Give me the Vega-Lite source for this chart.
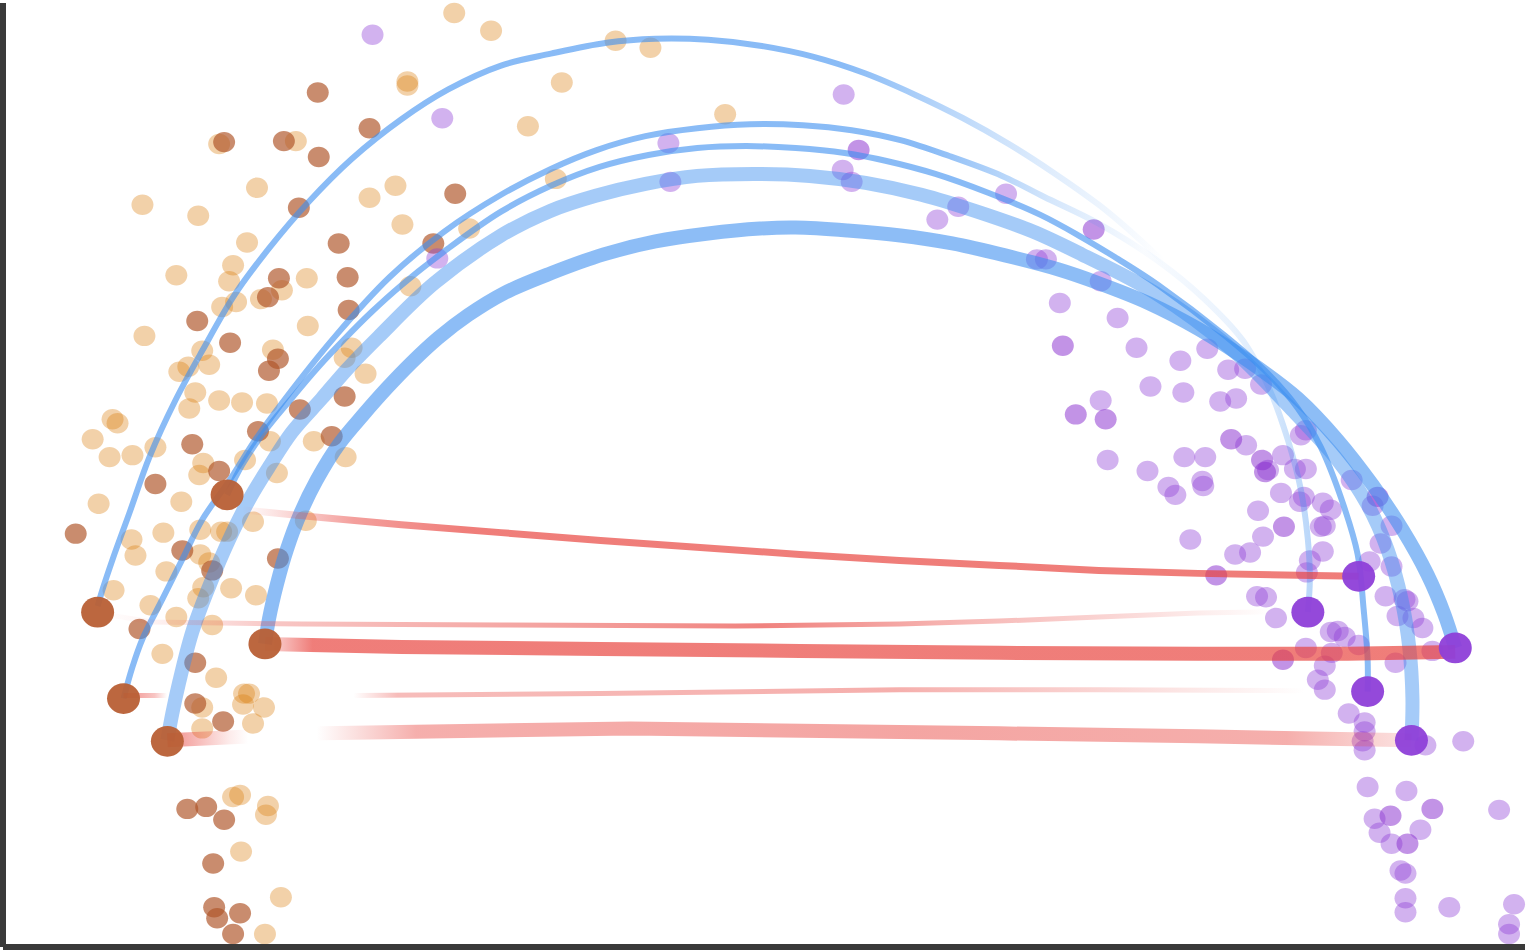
{
  "$schema": "https://vega.github.io/schema/vega-lite/v6.json",
  "width": 1528,
  "height": 950,
  "autosize": {"type": "fit", "contains": "padding"},
  "padding": 0,
  "background": "white",
  "config": {"view": {"stroke": null}},
  "datasets": {
    "dots": [
      {"g":"o","x":453,"y":10},{"g":"o","x":490,"y":28},{"g":"o","x":406,"y":79},{"g":"o","x":406,"y":83},{"g":"o","x":217,"y":142},{"g":"o","x":294,"y":139},{"g":"o","x":255,"y":186},{"g":"o","x":140,"y":203},{"g":"o","x":196,"y":214},{"g":"o","x":368,"y":196},{"g":"o","x":394,"y":184},{"g":"o","x":401,"y":223},{"g":"o","x":245,"y":241},{"g":"o","x":468,"y":227},{"g":"o","x":231,"y":264},{"g":"o","x":227,"y":280},{"g":"o","x":174,"y":274},{"g":"o","x":305,"y":277},{"g":"o","x":409,"y":285},{"g":"o","x":259,"y":298},{"g":"o","x":280,"y":289},{"g":"o","x":234,"y":301},{"g":"o","x":220,"y":306},{"g":"o","x":306,"y":325},{"g":"o","x":142,"y":335},{"g":"o","x":200,"y":350},{"g":"o","x":271,"y":349},{"g":"o","x":350,"y":347},{"g":"o","x":343,"y":357},{"g":"o","x":186,"y":366},{"g":"o","x":207,"y":364},{"g":"o","x":177,"y":371},{"g":"o","x":364,"y":373},{"g":"o","x":193,"y":392},{"g":"o","x":217,"y":400},{"g":"o","x":240,"y":402},{"g":"o","x":265,"y":403},{"g":"o","x":615,"y":38},{"g":"o","x":650,"y":45},{"g":"o","x":561,"y":80},{"g":"o","x":527,"y":124},{"g":"o","x":725,"y":112},{"g":"o","x":555,"y":177},{"g":"o","x":187,"y":408},{"g":"o","x":110,"y":419},{"g":"o","x":115,"y":423},{"g":"o","x":90,"y":439},{"g":"o","x":107,"y":457},{"g":"o","x":130,"y":455},{"g":"o","x":153,"y":447},{"g":"o","x":268,"y":441},{"g":"o","x":312,"y":441},{"g":"o","x":344,"y":457},{"g":"o","x":201,"y":463},{"g":"o","x":197,"y":475},{"g":"o","x":243,"y":460},{"g":"o","x":275,"y":473},{"g":"o","x":179,"y":502},{"g":"o","x":96,"y":504},{"g":"o","x":129,"y":540},{"g":"o","x":133,"y":556},{"g":"o","x":161,"y":533},{"g":"o","x":198,"y":530},{"g":"o","x":219,"y":532},{"g":"o","x":225,"y":532},{"g":"o","x":251,"y":522},{"g":"o","x":304,"y":521},{"g":"o","x":198,"y":555},{"g":"o","x":207,"y":563},{"g":"o","x":164,"y":572},{"g":"o","x":201,"y":588},{"g":"o","x":196,"y":599},{"g":"o","x":229,"y":589},{"g":"o","x":254,"y":596},{"g":"o","x":111,"y":591},{"g":"o","x":148,"y":606},{"g":"o","x":174,"y":618},{"g":"o","x":210,"y":626},{"g":"o","x":160,"y":655},{"g":"o","x":214,"y":679},{"g":"o","x":242,"y":695},{"g":"o","x":247,"y":695},{"g":"o","x":241,"y":706},{"g":"o","x":262,"y":709},{"g":"o","x":200,"y":709},{"g":"o","x":251,"y":725},{"g":"o","x":200,"y":730},{"g":"o","x":231,"y":799},{"g":"o","x":238,"y":797},{"g":"o","x":266,"y":808},{"g":"o","x":264,"y":817},{"g":"o","x":239,"y":854},{"g":"o","x":279,"y":900},{"g":"o","x":263,"y":937},
      {"g":"b","x":316,"y":90},{"g":"b","x":368,"y":126},{"g":"b","x":222,"y":140},{"g":"b","x":282,"y":139},{"g":"b","x":317,"y":155},{"g":"b","x":297,"y":206},{"g":"b","x":454,"y":192},{"g":"b","x":337,"y":242},{"g":"b","x":432,"y":242},{"g":"b","x":277,"y":277},{"g":"b","x":346,"y":276},{"g":"b","x":266,"y":296},{"g":"b","x":347,"y":309},{"g":"b","x":195,"y":320},{"g":"b","x":228,"y":342},{"g":"b","x":276,"y":358},{"g":"b","x":267,"y":370},{"g":"b","x":343,"y":396},{"g":"b","x":298,"y":409},{"g":"b","x":190,"y":444},{"g":"b","x":256,"y":431},{"g":"b","x":330,"y":436},{"g":"b","x":217,"y":471},{"g":"b","x":153,"y":484},{"g":"b","x":73,"y":534},{"g":"b","x":180,"y":551},{"g":"b","x":210,"y":571},{"g":"b","x":276,"y":559},{"g":"b","x":137,"y":630},{"g":"b","x":193,"y":664},{"g":"b","x":193,"y":705},{"g":"b","x":221,"y":723},{"g":"b","x":185,"y":811},{"g":"b","x":204,"y":809},{"g":"b","x":222,"y":822},{"g":"b","x":211,"y":866},{"g":"b","x":212,"y":910},{"g":"b","x":215,"y":921},{"g":"b","x":238,"y":916},{"g":"b","x":231,"y":937},
      {"g":"p","x":371,"y":32},{"g":"p","x":441,"y":116},{"g":"p","x":436,"y":257},{"g":"p","x":844,"y":92},{"g":"p","x":668,"y":141},{"g":"p","x":670,"y":180},{"g":"p","x":843,"y":168},{"g":"p","x":852,"y":180},{"g":"p","x":1007,"y":192},{"g":"p","x":959,"y":205},{"g":"p","x":938,"y":218},{"g":"p","x":1038,"y":258},{"g":"p","x":1047,"y":258},{"g":"p","x":1102,"y":280},{"g":"p","x":1061,"y":302},{"g":"p","x":1119,"y":317},{"g":"p","x":1138,"y":347},{"g":"p","x":1182,"y":360},{"g":"p","x":1209,"y":348},{"g":"p","x":1230,"y":369},{"g":"p","x":1247,"y":368},{"g":"p","x":1263,"y":384},{"g":"p","x":1152,"y":386},{"g":"p","x":1185,"y":392},{"g":"p","x":1222,"y":401},{"g":"p","x":1238,"y":398},{"g":"p","x":1102,"y":400},{"g":"p","x":1248,"y":445},{"g":"p","x":1109,"y":460},{"g":"p","x":1186,"y":457},{"g":"p","x":1207,"y":457},{"g":"p","x":1285,"y":455},{"g":"p","x":1149,"y":471},{"g":"p","x":1170,"y":487},{"g":"p","x":1204,"y":481},{"g":"p","x":1205,"y":486},{"g":"p","x":1283,"y":493},{"g":"p","x":1177,"y":495},{"g":"p","x":1303,"y":435},{"g":"p","x":1308,"y":430},{"g":"p","x":1270,"y":470},{"g":"p","x":1297,"y":469},{"g":"p","x":1308,"y":469},{"g":"p","x":1302,"y":502},{"g":"p","x":1306,"y":497},{"g":"p","x":1325,"y":503},{"g":"p","x":1333,"y":510},{"g":"p","x":1323,"y":527},{"g":"p","x":1327,"y":526},{"g":"p","x":1354,"y":480},{"g":"p","x":1375,"y":506},{"g":"p","x":1394,"y":526},{"g":"p","x":1383,"y":544},{"g":"p","x":1325,"y":552},{"g":"p","x":1312,"y":561},{"g":"p","x":1309,"y":573},{"g":"p","x":1260,"y":511},{"g":"p","x":1265,"y":537},{"g":"p","x":1192,"y":540},{"g":"p","x":1237,"y":555},{"g":"p","x":1252,"y":553},{"g":"p","x":1372,"y":562},{"g":"p","x":1394,"y":567},{"g":"p","x":1259,"y":597},{"g":"p","x":1268,"y":598},{"g":"p","x":1278,"y":619},{"g":"p","x":1388,"y":597},{"g":"p","x":1407,"y":600},{"g":"p","x":1410,"y":602},{"g":"p","x":1400,"y":617},{"g":"p","x":1416,"y":619},{"g":"p","x":1425,"y":629},{"g":"p","x":1333,"y":633},{"g":"p","x":1340,"y":632},{"g":"p","x":1347,"y":638},{"g":"p","x":1361,"y":646},{"g":"p","x":1308,"y":649},{"g":"p","x":1334,"y":654},{"g":"p","x":1435,"y":652},{"g":"p","x":1398,"y":664},{"g":"p","x":1327,"y":667},{"g":"p","x":1320,"y":681},{"g":"p","x":1327,"y":691},{"g":"p","x":1351,"y":715},{"g":"p","x":1367,"y":724},{"g":"p","x":1367,"y":733},{"g":"p","x":1365,"y":743},{"g":"p","x":1367,"y":752},{"g":"p","x":1428,"y":747},{"g":"p","x":1466,"y":743},{"g":"p","x":1370,"y":789},{"g":"p","x":1409,"y":793},{"g":"p","x":1502,"y":812},{"g":"p","x":1377,"y":821},{"g":"p","x":1382,"y":835},{"g":"p","x":1423,"y":832},{"g":"p","x":1394,"y":846},{"g":"p","x":1403,"y":873},{"g":"p","x":1408,"y":876},{"g":"p","x":1408,"y":901},{"g":"p","x":1408,"y":915},{"g":"p","x":1452,"y":910},{"g":"p","x":1517,"y":907},{"g":"p","x":1512,"y":927},{"g":"p","x":1512,"y":937},
      {"g":"q","x":859,"y":148},{"g":"q","x":1095,"y":228},{"g":"q","x":1064,"y":345},{"g":"q","x":1077,"y":414},{"g":"q","x":1107,"y":419},{"g":"q","x":1233,"y":439},{"g":"q","x":1264,"y":460},{"g":"q","x":1267,"y":472},{"g":"q","x":1380,"y":497},{"g":"q","x":1286,"y":527},{"g":"q","x":1218,"y":576},{"g":"q","x":1285,"y":661},{"g":"q","x":1435,"y":811},{"g":"q","x":1393,"y":818},{"g":"q","x":1410,"y":846}
    ]
  },
  "encoding": {
    "x": {"field": "x", "type": "quantitative", "scale": {"domain": [0, 1528], "nice": false, "zero": false}, "axis": null},
    "y": {"field": "y", "type": "quantitative", "scale": {"domain": [0, 950], "reverse": true, "nice": false, "zero": false}, "axis": null}
  },
  "layer": [
    {
      "data": {"name": "dots"},
      "transform": [{"filter": "datum.g == 'o'"}],
      "mark": {"type": "point", "filled": true, "shape": "M-1,0A1,0.93,0,1,1,1,0A1,0.93,0,1,1,-1,0Z", "size": 484, "strokeWidth": 0, "color": "#da7c09", "opacity": 0.35}
    },
    {
      "data": {"name": "dots"},
      "transform": [{"filter": "datum.g == 'b'"}],
      "mark": {"type": "point", "filled": true, "shape": "M-1,0A1,0.93,0,1,1,1,0A1,0.93,0,1,1,-1,0Z", "size": 484, "strokeWidth": 0, "color": "#b0552a", "opacity": 0.68}
    },
    {
      "data": {"name": "dots"},
      "transform": [{"filter": "datum.g == 'p'"}],
      "mark": {"type": "point", "filled": true, "shape": "M-1,0A1,0.93,0,1,1,1,0A1,0.93,0,1,1,-1,0Z", "size": 484, "strokeWidth": 0, "color": "#8e3fd8", "opacity": 0.4}
    },
    {
      "data": {"name": "dots"},
      "transform": [{"filter": "datum.g == 'q'"}],
      "mark": {"type": "point", "filled": true, "shape": "M-1,0A1,0.93,0,1,1,1,0A1,0.93,0,1,1,-1,0Z", "size": 484, "strokeWidth": 0, "color": "#8a2fd0", "opacity": 0.52}
    },
    {
      "data": {"values": [
        {"i":0,"x":95,"y":607},{"i":1,"x":100,"y":590},{"i":2,"x":110,"y":560},{"i":3,"x":127,"y":513},{"i":4,"x":147,"y":457},{"i":5,"x":173,"y":400},{"i":6,"x":200,"y":350},{"i":7,"x":233,"y":293},{"i":8,"x":267,"y":247},{"i":9,"x":307,"y":200},{"i":10,"x":350,"y":157},{"i":11,"x":400,"y":117},{"i":12,"x":447,"y":87},{"i":13,"x":500,"y":63},{"i":14,"x":550,"y":51},{"i":15,"x":606,"y":40},{"i":16,"x":655,"y":36},{"i":17,"x":708,"y":37},{"i":18,"x":760,"y":43},{"i":19,"x":813,"y":54},{"i":20,"x":866,"y":71},{"i":21,"x":915,"y":92},{"i":22,"x":964,"y":116},{"i":23,"x":1010,"y":142},{"i":24,"x":1055,"y":171},{"i":25,"x":1100,"y":203},{"i":26,"x":1130,"y":228},{"i":27,"x":1167,"y":262}
      ]},
      "mark": {"type": "line", "interpolate": "catmull-rom", "strokeWidth": 6, "strokeCap": "butt", "strokeJoin": "round",
        "stroke": {"gradient": "linear", "x1": 0, "y1": 0, "x2": 1, "y2": 0, "stops": [
          {"offset": 0, "color": "rgba(59,142,240,0.6)"},
          {"offset": 0.7, "color": "rgba(59,142,240,0.6)"},
          {"offset": 0.8, "color": "rgba(59,142,240,0.35)"},
          {"offset": 0.88, "color": "rgba(59,142,240,0.18)"},
          {"offset": 1, "color": "rgba(59,142,240,0)"}]}},
      "encoding": {"order": {"field": "i", "type": "quantitative"}}
    },
    {
      "data": {"values": [
        {"i":0,"x":121,"y":700},{"i":1,"x":130,"y":668},{"i":2,"x":140,"y":640},{"i":3,"x":160,"y":600},{"i":4,"x":180,"y":560},{"i":5,"x":200,"y":520},{"i":6,"x":227,"y":481},{"i":7,"x":253,"y":440},{"i":8,"x":282,"y":400},{"i":9,"x":333,"y":336},{"i":10,"x":388,"y":276},{"i":11,"x":443,"y":230},{"i":12,"x":500,"y":193},{"i":13,"x":550,"y":167},{"i":14,"x":596,"y":148},{"i":15,"x":645,"y":134},{"i":16,"x":697,"y":126},{"i":17,"x":750,"y":122},{"i":18,"x":803,"y":123},{"i":19,"x":852,"y":128},{"i":20,"x":901,"y":138},{"i":21,"x":950,"y":154},{"i":22,"x":1003,"y":174},{"i":23,"x":1045,"y":195},{"i":24,"x":1100,"y":222},{"i":25,"x":1160,"y":260},{"i":26,"x":1205,"y":297},{"i":27,"x":1245,"y":340},{"i":28,"x":1272,"y":390},{"i":29,"x":1290,"y":440},{"i":30,"x":1303,"y":490},{"i":31,"x":1310,"y":540},{"i":32,"x":1312,"y":580},{"i":33,"x":1310,"y":613}
      ]},
      "mark": {"type": "line", "interpolate": "catmull-rom", "strokeWidth": 6, "strokeCap": "butt", "strokeJoin": "round",
        "stroke": {"gradient": "linear", "x1": 0, "y1": 0, "x2": 1, "y2": 0, "stops": [
          {"offset": 0, "color": "rgba(59,142,240,0.6)"},
          {"offset": 0.68, "color": "rgba(59,142,240,0.6)"},
          {"offset": 0.78, "color": "rgba(59,142,240,0.22)"},
          {"offset": 0.86, "color": "rgba(59,142,240,0.03)"},
          {"offset": 0.93, "color": "rgba(59,142,240,0.1)"},
          {"offset": 0.966, "color": "rgba(59,142,240,0.2)"},
          {"offset": 1, "color": "rgba(59,142,240,0.35)"}]}},
      "encoding": {"order": {"field": "i", "type": "quantitative"}}
    },
    {
      "data": {"values": [
        {"i":0,"x":225,"y":495},{"i":1,"x":240,"y":465},{"i":2,"x":262,"y":432},{"i":3,"x":288,"y":400},{"i":4,"x":315,"y":368},{"i":5,"x":342,"y":339},{"i":6,"x":370,"y":311},{"i":7,"x":400,"y":284},{"i":8,"x":447,"y":247},{"i":9,"x":500,"y":210},{"i":10,"x":550,"y":184},{"i":11,"x":599,"y":165},{"i":12,"x":648,"y":153},{"i":13,"x":697,"y":146},{"i":14,"x":746,"y":144},{"i":15,"x":796,"y":146},{"i":16,"x":845,"y":151},{"i":17,"x":887,"y":159},{"i":18,"x":936,"y":172},{"i":19,"x":989,"y":191},{"i":20,"x":1041,"y":213},{"i":21,"x":1080,"y":234},{"i":22,"x":1120,"y":258},{"i":23,"x":1160,"y":284},{"i":24,"x":1227,"y":335},{"i":25,"x":1270,"y":373},{"i":26,"x":1300,"y":408},{"i":27,"x":1323,"y":447},{"i":28,"x":1345,"y":503},{"i":29,"x":1360,"y":555},{"i":30,"x":1366,"y":610},{"i":31,"x":1370,"y":660},{"i":32,"x":1370,"y":693}
      ]},
      "mark": {"type": "line", "interpolate": "catmull-rom", "strokeWidth": 6, "strokeCap": "butt", "strokeJoin": "round", "stroke": "rgba(59,142,240,0.6)"},
      "encoding": {"order": {"field": "i", "type": "quantitative"}}
    },
    {
      "data": {"values": [
        {"i":0,"x":165,"y":742},{"i":1,"x":170,"y":715},{"i":2,"x":177,"y":683},{"i":3,"x":190,"y":633},{"i":4,"x":207,"y":587},{"i":5,"x":227,"y":540},{"i":6,"x":247,"y":500},{"i":7,"x":267,"y":467},{"i":8,"x":290,"y":432},{"i":9,"x":320,"y":398},{"i":10,"x":345,"y":369},{"i":11,"x":377,"y":336},{"i":12,"x":433,"y":282},{"i":13,"x":500,"y":234},{"i":14,"x":550,"y":209},{"i":15,"x":595,"y":194},{"i":16,"x":645,"y":182},{"i":17,"x":697,"y":174},{"i":18,"x":754,"y":172},{"i":19,"x":810,"y":174},{"i":20,"x":866,"y":181},{"i":21,"x":922,"y":193},{"i":22,"x":978,"y":210},{"i":23,"x":1034,"y":230},{"i":24,"x":1083,"y":253},{"i":25,"x":1157,"y":292},{"i":26,"x":1233,"y":348},{"i":27,"x":1290,"y":405},{"i":28,"x":1340,"y":460},{"i":29,"x":1370,"y":505},{"i":30,"x":1390,"y":550},{"i":31,"x":1404,"y":600},{"i":32,"x":1412,"y":650},{"i":33,"x":1415,"y":700},{"i":34,"x":1414,"y":742}
      ]},
      "mark": {"type": "line", "interpolate": "catmull-rom", "strokeWidth": 14, "strokeCap": "butt", "strokeJoin": "round", "stroke": "rgba(59,142,240,0.46)"},
      "encoding": {"order": {"field": "i", "type": "quantitative"}}
    },
    {
      "data": {"values": [
        {"i":0,"x":263,"y":645},{"i":1,"x":267,"y":620},{"i":2,"x":275,"y":585},{"i":3,"x":285,"y":550},{"i":4,"x":298,"y":515},{"i":5,"x":315,"y":480},{"i":6,"x":338,"y":443},{"i":7,"x":362,"y":414},{"i":8,"x":385,"y":388},{"i":9,"x":410,"y":362},{"i":10,"x":437,"y":337},{"i":11,"x":467,"y":314},{"i":12,"x":503,"y":292},{"i":13,"x":550,"y":272},{"i":14,"x":603,"y":253},{"i":15,"x":655,"y":240},{"i":16,"x":708,"y":232},{"i":17,"x":760,"y":227},{"i":18,"x":796,"y":226},{"i":19,"x":848,"y":229},{"i":20,"x":901,"y":234},{"i":21,"x":953,"y":242},{"i":22,"x":1006,"y":254},{"i":23,"x":1059,"y":268},{"i":24,"x":1100,"y":282},{"i":25,"x":1150,"y":302},{"i":26,"x":1200,"y":328},{"i":27,"x":1250,"y":360},{"i":28,"x":1300,"y":398},{"i":29,"x":1340,"y":440},{"i":30,"x":1375,"y":485},{"i":31,"x":1405,"y":530},{"i":32,"x":1430,"y":575},{"i":33,"x":1447,"y":615},{"i":34,"x":1458,"y":649}
      ]},
      "mark": {"type": "line", "interpolate": "catmull-rom", "strokeWidth": 14, "strokeCap": "butt", "strokeJoin": "round", "stroke": "rgba(59,142,240,0.58)"},
      "encoding": {"order": {"field": "i", "type": "quantitative"}}
    },
    {
      "data": {"values": [
        {"i":0,"x":240,"y":510},{"i":1,"x":300,"y":516},{"i":2,"x":400,"y":525},{"i":3,"x":500,"y":533},{"i":4,"x":600,"y":541},{"i":5,"x":700,"y":548},{"i":6,"x":800,"y":555},{"i":7,"x":900,"y":561},{"i":8,"x":1000,"y":566},{"i":9,"x":1100,"y":571},{"i":10,"x":1200,"y":574},{"i":11,"x":1300,"y":576},{"i":12,"x":1361,"y":577}
      ]},
      "mark": {"type": "line", "strokeWidth": 7, "strokeCap": "butt", "strokeJoin": "round",
        "stroke": {"gradient": "linear", "x1": 0, "y1": 0, "x2": 1, "y2": 0, "stops": [
          {"offset": 0, "color": "rgba(232,64,58,0)"},
          {"offset": 0.1, "color": "rgba(232,64,58,0.5)"},
          {"offset": 0.2, "color": "rgba(232,64,58,0.68)"},
          {"offset": 1, "color": "rgba(232,64,58,0.68)"}]}},
      "encoding": {"order": {"field": "i", "type": "quantitative"}}
    },
    {
      "data": {"values": [
        {"i":0,"x":95,"y":614},{"i":1,"x":150,"y":623},{"i":2,"x":300,"y":625},{"i":3,"x":500,"y":626},{"i":4,"x":735,"y":627},{"i":5,"x":900,"y":625},{"i":6,"x":1000,"y":622},{"i":7,"x":1100,"y":618},{"i":8,"x":1200,"y":614},{"i":9,"x":1310,"y":612}
      ]},
      "mark": {"type": "line", "strokeWidth": 5, "strokeCap": "butt", "strokeJoin": "round",
        "stroke": {"gradient": "linear", "x1": 0, "y1": 0, "x2": 1, "y2": 0, "stops": [
          {"offset": 0, "color": "rgba(232,64,58,0)"},
          {"offset": 0.04, "color": "rgba(232,64,58,0.05)"},
          {"offset": 0.15, "color": "rgba(232,64,58,0.3)"},
          {"offset": 0.45, "color": "rgba(232,64,58,0.55)"},
          {"offset": 0.55, "color": "rgba(232,64,58,0.65)"},
          {"offset": 0.7, "color": "rgba(232,64,58,0.4)"},
          {"offset": 0.85, "color": "rgba(232,64,58,0.2)"},
          {"offset": 0.97, "color": "rgba(232,64,58,0)"},
          {"offset": 1, "color": "rgba(232,64,58,0)"}]}},
      "encoding": {"order": {"field": "i", "type": "quantitative"}}
    },
    {
      "data": {"values": [
        {"i":0,"x":263,"y":645},{"i":1,"x":400,"y":648},{"i":2,"x":600,"y":650},{"i":3,"x":800,"y":652},{"i":4,"x":1000,"y":654},{"i":5,"x":1200,"y":655},{"i":6,"x":1350,"y":655},{"i":7,"x":1458,"y":653}
      ]},
      "mark": {"type": "line", "strokeWidth": 14, "strokeCap": "butt", "strokeJoin": "round",
        "stroke": {"gradient": "linear", "x1": 0, "y1": 0, "x2": 1, "y2": 0, "stops": [
          {"offset": 0, "color": "rgba(232,64,58,0.2)"},
          {"offset": 0.015, "color": "rgba(232,64,58,0.35)"},
          {"offset": 0.04, "color": "rgba(232,64,58,0.68)"},
          {"offset": 1, "color": "rgba(232,64,58,0.68)"}]}},
      "encoding": {"order": {"field": "i", "type": "quantitative"}}
    },
    {
      "data": {"values": [
        {"i":0,"x":121,"y":697},{"i":1,"x":160,"y":697},{"i":2,"x":355,"y":697},{"i":3,"x":600,"y":695},{"i":4,"x":900,"y":691},{"i":5,"x":1100,"y":691},{"i":6,"x":1300,"y":692},{"i":7,"x":1370,"y":693}
      ]},
      "mark": {"type": "line", "strokeWidth": 5, "strokeCap": "butt", "strokeJoin": "round",
        "stroke": {"gradient": "linear", "x1": 0, "y1": 0, "x2": 1, "y2": 0, "stops": [
          {"offset": 0, "color": "rgba(232,64,58,0.6)"},
          {"offset": 0.025, "color": "rgba(232,64,58,0.3)"},
          {"offset": 0.035, "color": "rgba(232,64,58,0)"},
          {"offset": 0.185, "color": "rgba(232,64,58,0)"},
          {"offset": 0.22, "color": "rgba(232,64,58,0.35)"},
          {"offset": 0.62, "color": "rgba(232,64,58,0.42)"},
          {"offset": 0.8, "color": "rgba(232,64,58,0.2)"},
          {"offset": 0.95, "color": "rgba(232,64,58,0)"},
          {"offset": 1, "color": "rgba(232,64,58,0)"}]}},
      "encoding": {"order": {"field": "i", "type": "quantitative"}}
    },
    {
      "data": {"values": [
        {"i":0,"x":165,"y":742},{"i":1,"x":230,"y":739},{"i":2,"x":320,"y":735},{"i":3,"x":630,"y":730},{"i":4,"x":1000,"y":735},{"i":5,"x":1200,"y":738},{"i":6,"x":1414,"y":742}
      ]},
      "mark": {"type": "line", "strokeWidth": 14, "strokeCap": "butt", "strokeJoin": "round",
        "stroke": {"gradient": "linear", "x1": 0, "y1": 0, "x2": 1, "y2": 0, "stops": [
          {"offset": 0, "color": "rgba(232,64,58,0.6)"},
          {"offset": 0.05, "color": "rgba(232,64,58,0.1)"},
          {"offset": 0.065, "color": "rgba(232,64,58,0)"},
          {"offset": 0.12, "color": "rgba(232,64,58,0)"},
          {"offset": 0.2, "color": "rgba(232,64,58,0.42)"},
          {"offset": 0.6, "color": "rgba(232,64,58,0.47)"},
          {"offset": 0.9, "color": "rgba(232,64,58,0.42)"},
          {"offset": 0.96, "color": "rgba(232,64,58,0.25)"},
          {"offset": 1, "color": "rgba(232,64,58,0.15)"}]}},
      "encoding": {"order": {"field": "i", "type": "quantitative"}}
    },
    {
      "data": {"values": [
        {"g":"b","x":95,"y":613},{"g":"b","x":121,"y":700},{"g":"b","x":165,"y":743},{"g":"b","x":225,"y":495},{"g":"b","x":263,"y":645},
        {"g":"p","x":1361,"y":577},{"g":"p","x":1310,"y":613},{"g":"p","x":1458,"y":649},{"g":"p","x":1370,"y":693},{"g":"p","x":1414,"y":742}
      ]},
      "mark": {"type": "point", "filled": true, "shape": "M-1,0A1,0.93,0,1,1,1,0A1,0.93,0,1,1,-1,0Z", "size": 1089, "strokeWidth": 0, "opacity": 0.95},
      "encoding": {
        "color": {"field": "g", "type": "nominal", "scale": {"domain": ["b", "p"], "range": ["#b85f35", "#8e3fd8"]}, "legend": null}
      }
    },
    {
      "data": {"values": [
        {"x":0,"y":0,"x2":0,"y2":950},
        {"x":0,"y":950,"x2":1528,"y2":950}
      ]},
      "mark": {"type": "rule", "color": "#3a3a3a", "strokeWidth": 6},
      "encoding": {"x2": {"field": "x2"}, "y2": {"field": "y2"}}
    }
  ]
}
